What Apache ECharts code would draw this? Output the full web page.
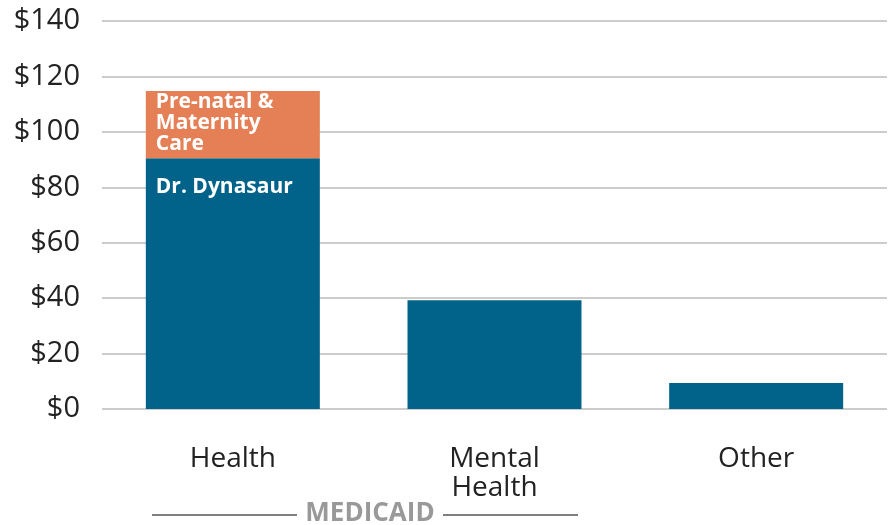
<!DOCTYPE html>
<html>
<head>
<meta charset="utf-8">
<script src="https://cdn.jsdelivr.net/npm/echarts@6/dist/echarts.min.js"></script>
<style>
  html, body { margin: 0; padding: 0; background: #fff; }
  #chart { width: 888px; height: 525px; }
</style>
</head>
<body>
<div id="chart"></div>
<script>
const categories = ['Health', 'Mental\nHealth', 'Other'];
const baseValues = [90.5, 39.2, 9.4];
const prenatalValues = [24.2, null, null];
const yTicks = { min: 0, max: 140, interval: 20 };

const FONT = '"Open Sans", "Noto Sans", sans-serif';
const BLUE = '#02638a';
const ORANGE = '#e47f56';

const chart = echarts.init(document.getElementById('chart'));

chart.setOption({
  animation: false,
  textStyle: { fontFamily: FONT },
  grid: { left: 102, right: 1, top: 21, bottom: 116 },
  xAxis: {
    type: 'category',
    data: categories,
    axisLine: { show: false },
    axisTick: { show: false },
    axisLabel: {
      color: '#222',
      fontSize: 28,
      lineHeight: 29,
      margin: 36,
      fontFamily: FONT,
    },
  },
  yAxis: {
    type: 'value',
    min: yTicks.min,
    max: yTicks.max,
    interval: yTicks.interval,
    axisLine: { show: false },
    axisTick: { show: false },
    splitLine: { lineStyle: { color: '#cccccc', width: 2 } },
    axisLabel: {
      color: '#222',
      fontSize: 29,
      margin: 22,
      fontFamily: FONT,
      formatter: (v) => '$' + v,
    },
  },
  series: [
    {
      name: 'Dr. Dynasaur',
      type: 'bar',
      stack: 'total',
      data: baseValues,
      barWidth: '66.5%',
      itemStyle: { color: BLUE },
      label: {
        show: true,
        position: [10, 18],
        color: '#fff',
        fontWeight: 'bold',
        fontSize: 21,
        lineHeight: 21,
        fontFamily: FONT,
        formatter: (p) => (p.dataIndex === 0 ? 'Dr. Dynasaur' : ''),
      },
    },
    {
      name: 'Pre-natal & Maternity Care',
      type: 'bar',
      stack: 'total',
      data: prenatalValues,
      barWidth: '66.5%',
      itemStyle: { color: ORANGE },
      label: {
        show: true,
        position: [10, 0],
        color: '#fff',
        fontWeight: 'bold',
        fontSize: 21,
        lineHeight: 21,
        fontFamily: FONT,
        formatter: 'Pre-natal &\nMaternity\nCare',
      },
    },
  ],
  graphic: [
    {
      type: 'line',
      shape: { x1: 152, y1: 515, x2: 297, y2: 515 },
      style: { stroke: '#555', lineWidth: 1.5 },
    },
    {
      type: 'line',
      shape: { x1: 443, y1: 515, x2: 578, y2: 515 },
      style: { stroke: '#555', lineWidth: 1.5 },
    },
    {
      type: 'text',
      x: 370,
      y: 514,
      style: {
        text: 'MEDICAID',
        fill: '#999',
        font: 'bold 26px ' + FONT,
        align: 'center',
        verticalAlign: 'middle',
      },
    },
  ],
});
</script>
</body>
</html>
